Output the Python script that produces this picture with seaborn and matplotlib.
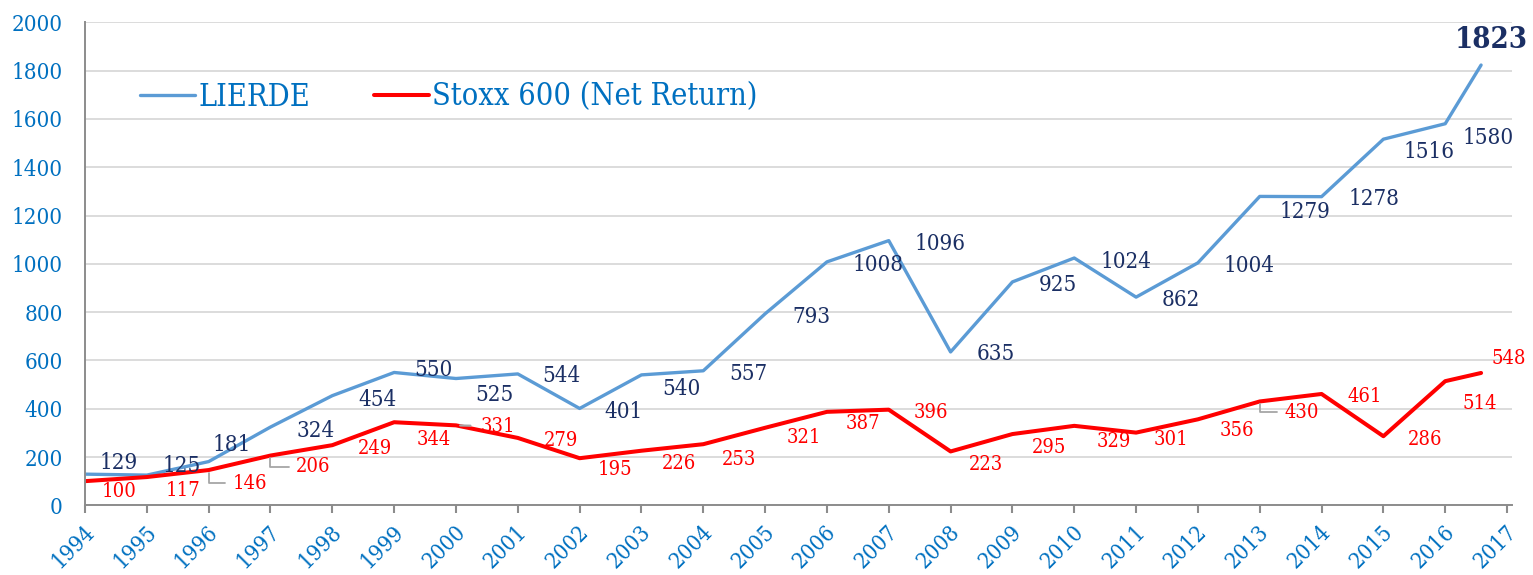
import matplotlib
matplotlib.use("Agg")
import matplotlib.pyplot as plt
import matplotlib.transforms as mtransforms
import seaborn as sns
import pandas as pd

# ---------------- data ----------------
years = [1994, 1995, 1996, 1997, 1998, 1999, 2000, 2001, 2002, 2003, 2004, 2005,
         2006, 2007, 2008, 2009, 2010, 2011, 2012, 2013, 2014, 2015, 2016, 2016.58]
lierde = [129, 125, 181, 324, 454, 550, 525, 544, 401, 540, 557, 793,
          1008, 1096, 635, 925, 1024, 862, 1004, 1279, 1278, 1516, 1580, 1823]
stoxx = [100, 117, 146, 206, 249, 344, 331, 279, 195, 226, 253, 321,
         387, 396, 223, 295, 329, 301, 356, 430, 461, 286, 514, 548]
series_names = ["LIERDE", "Stoxx 600 (Net Return)"]
tick_years = list(range(1994, 2018))
y_ticks = list(range(0, 2001, 200))

# ---------------- styling / layout ----------------
BLUE_LINE = "#5B9BD5"
RED_LINE = "#FF0000"
NAVY = "#1B2F64"
TICK_BLUE = "#0070C0"
GRID = "#D9D9D9"
SPINE = "#8C8C8C"
LEADER = "#A6A6A6"

# label offsets in pixels (dx, dy downwards)
lierde_off = [(34, -14), (35, -12), (23, -19), (45, 1), (45, 2), (39, -5), (38, 14), (44, 0),
              (44, 1), (40, 12), (45, 1), (46, 1), (51, 1), (51, 1), (45, 0), (45, 1),
              (52, 1), (45, 0), (51, 1), (45, 13), (52, 0), (46, 10), (43, 12), (10, -29)]
stoxx_off = [(34, 8), (36, 11), (41, 11), (43, 9), (43, 1), (40, 15), (42, -1), (43, 1),
             (35, 9), (37, 11), (36, 13), (39, 8), (36, 10), (42, 1), (35, 11), (37, 11),
             (40, 14), (35, 5), (39, 9), (42, 9), (43, 1), (42, 1), (35, 20), (28, -16)]
leader_elbow = {2, 3, 19}
leader_dash = {6}

sns.set_theme(style="white")
plt.rcParams["font.family"] = ["DejaVu Serif"]
plt.rcParams["font.stretch"] = "condensed"

df = pd.DataFrame({
    "year": years * 2,
    "value": lierde + stoxx,
    "series": [series_names[0]] * len(years) + [series_names[1]] * len(years),
})

fig = plt.figure(figsize=(15.33, 5.75), dpi=100)
ax = fig.add_axes([85 / 1533, 1 - 505.3 / 575, (1512 - 85) / 1533, (505.3 - 22.3) / 575])

sns.lineplot(data=df, x="year", y="value", hue="series",
             palette={series_names[0]: BLUE_LINE, series_names[1]: RED_LINE},
             ax=ax, legend=True, sort=False)
lines = ax.get_lines()
lines[0].set_linewidth(2.4)
lines[1].set_linewidth(2.9)
lines[1].set_zorder(3)
lines[0].set_zorder(2.5)

ax.set_xlim(1994, 2017.08)
ax.set_ylim(0, 2000)
ax.set_xticks(tick_years)
ax.set_xticklabels([str(y) for y in tick_years], rotation=45, ha="right",
                   va="center", rotation_mode="anchor")
ax.set_yticks(y_ticks)
ax.set_yticklabels([str(v) for v in y_ticks])
ax.set_xlabel("")
ax.set_ylabel("")

ax.tick_params(axis="x", direction="out", length=6, width=1.5, color=SPINE,
               labelcolor=TICK_BLUE, labelsize=16, pad=11, bottom=True)
ax.tick_params(axis="y", length=0, labelcolor=TICK_BLUE, labelsize=16, pad=16)

shift = mtransforms.ScaledTranslation(6 / 100, 0, fig.dpi_scale_trans)
for lab in ax.get_xticklabels():
    lab.set_transform(lab.get_transform() + shift)

ax.grid(axis="y", color=GRID, linewidth=1.3)
ax.grid(axis="x", visible=False)
ax.set_axisbelow(True)
for s in ["top", "right"]:
    ax.spines[s].set_visible(False)
for s in ["left", "bottom"]:
    ax.spines[s].set_color(SPINE)
    ax.spines[s].set_linewidth(1.4)
    ax.spines[s].set_zorder(4)

# data labels
for i, (x, v) in enumerate(zip(years, lierde)):
    dx, dy = lierde_off[i]
    last = i == len(years) - 1
    ax.annotate(str(v), xy=(x, v), xytext=(dx, -dy), textcoords="offset pixels",
                ha="center", va="center_baseline", color=NAVY,
                fontsize=21 if last else 16, fontweight="bold" if last else "normal",
                zorder=5, annotation_clip=False)

for i, (x, v) in enumerate(zip(years, stoxx)):
    dx, dy = stoxx_off[i]
    kw = {}
    if i in leader_elbow:
        kw["arrowprops"] = dict(arrowstyle="-", color=LEADER, lw=1.3,
                                connectionstyle="angle,angleA=0,angleB=90,rad=0",
                                shrinkA=3, shrinkB=2)
    elif i in leader_dash:
        kw["arrowprops"] = dict(arrowstyle="-", color=LEADER, lw=1.6,
                                shrinkA=5, shrinkB=3)
    ax.annotate(str(v), xy=(x, v), xytext=(dx, -dy), textcoords="offset pixels",
                ha="center", va="center_baseline", color=RED_LINE, fontsize=14.5,
                zorder=5, annotation_clip=False, **kw)

# legend
handles, labels = ax.get_legend_handles_labels()
if ax.legend_:
    ax.legend_.remove()
for h, lw in zip(handles, [2.4, 2.9]):
    h.set_linewidth(lw)
leg = fig.legend(handles, labels, loc="center left",
                 bbox_to_anchor=(140 / 1533, 1 - 97 / 575), bbox_transform=fig.transFigure,
                 ncol=2, frameon=False, fontsize=22, handlelength=1.8, handletextpad=0.1,
                 columnspacing=2.1, borderpad=0, borderaxespad=0)
for t in leg.get_texts():
    t.set_color(TICK_BLUE)

fig.savefig("out.png", dpi=100)
